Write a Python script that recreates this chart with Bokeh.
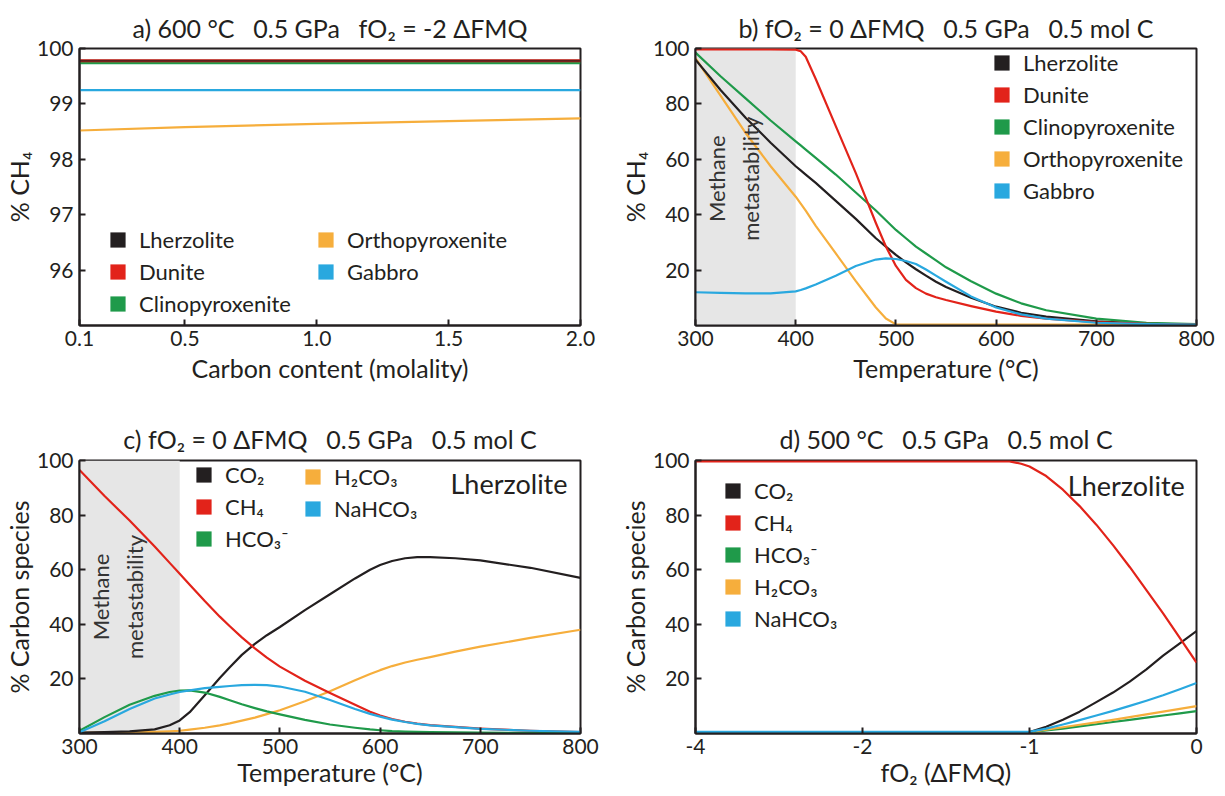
import numpy as np
from bokeh.plotting import figure
from bokeh.models import Range1d, FixedTicker, Legend, LegendItem, Label, BoxAnnotation
from bokeh.layouts import column, row
from bokeh.embed import file_html
from bokeh.resources import INLINE

FONT = "Lato"
INK = "#231f20"
C_BLACK = "#231f20"
C_RED = "#e2231a"
C_GREEN = "#1f9a4a"
C_ORANGE = "#f6ae3c"
C_BLUE = "#29a8df"
SHADE = "#e6e6e6"

# ---------------- Panel a data ----------------
a_carbon = [0.1, 0.5, 1.0, 1.5, 2.0]
a_lherzolite = [99.78, 99.78, 99.78, 99.78, 99.78]
a_dunite = [99.78, 99.78, 99.78, 99.78, 99.78]
a_clinopyroxenite = [99.74, 99.74, 99.74, 99.74, 99.74]
a_orthopyroxenite = [98.52, 98.58, 98.64, 98.69, 98.74]
a_gabbro = [99.25, 99.25, 99.25, 99.25, 99.25]
a_xticks = [0.1, 0.5, 1.0, 1.5, 2.0]
a_xtick_labels = ["0.1", "0.5", "1.0", "1.5", "2.0"]
a_yticks = [96, 97, 98, 99, 100]

# ---------------- Panel b data ----------------
b_temp = [300, 325, 350, 375, 400, 405, 410, 420, 440, 460, 480, 490, 500, 510,
          520, 530, 540, 550, 575, 600, 625, 650, 700, 750, 800]
b_lherzolite = [96, 85, 75, 66, 57.5, 56, 54.5, 51.5, 45, 38.5, 31.5, 28.5, 25.5, 22.8,
                20.3, 18, 15.8, 13.9, 10, 6.8, 4.6, 3.2, 1.5, 0.7, 0.3]
b_dunite = [99.7, 99.7, 99.7, 99.7, 99.6, 99.0, 97.0, 89, 72, 55, 37, 28.5, 21.5, 16.5,
            13.5, 11.5, 10.2, 9.2, 7, 5, 3.5, 2.5, 1.2, 0.6, 0.3]
b_clinopyroxenite = [98.5, 90, 82, 74, 66.5, 65, 63.5, 60.5, 54.5, 48, 41.5, 38, 34.5, 31.5,
                     28.5, 26, 23.5, 21, 16, 11.5, 8, 5.5, 2.5, 1.0, 0.5]
b_orthopyroxenite = [96.5, 83, 69.5, 57.5, 46.5, 44, 41.5, 36, 26, 16, 6.5, 2.5, 0.4, 0.3,
                     0.3, 0.3, 0.3, 0.3, 0.3, 0.3, 0.3, 0.3, 0.3, 0.3, 0.3]
b_gabbro = [12, 11.8, 11.6, 11.6, 12.3, 12.8, 13.4, 14.8, 18, 21.5, 23.8, 24.2, 24, 23.3,
            22.2, 20.2, 18, 15.8, 10.5, 6.5, 4, 2.5, 1.0, 0.5, 0.3]
temp_ticks = [300, 400, 500, 600, 700, 800]
pct_ticks = [20, 40, 60, 80, 100]
metastability_range = [300, 400]

# ---------------- Panel c data ----------------
c_temp = [300, 325, 350, 375, 390, 400, 410, 425, 440, 450, 462, 475, 487, 500, 525, 550,
          575, 590, 600, 612, 625, 637, 650, 675, 700, 750, 800]
c_co2 = [0.3, 0.5, 0.8, 1.5, 3, 4.8, 7.8, 14, 20.3, 24.3, 28.8, 32.8, 36, 39, 45.2, 51,
         56.8, 60, 61.7, 63.2, 64.2, 64.6, 64.6, 64.2, 63.4, 60.7, 57]
c_ch4 = [96.5, 87, 78, 68.5, 62.5, 58.5, 54.5, 48.5, 42.8, 39.3, 35.2, 31.2, 27.8, 24.5, 19.3, 14.8,
         10.5, 8, 6.6, 5.3, 4.3, 3.6, 3.1, 2.4, 1.8, 1.0, 0.5]
c_hco3 = [1, 6, 10.5, 13.8, 15.2, 15.7, 15.8, 15, 13.4, 12.2, 10.7, 9.3, 8.1, 7, 5, 3.3,
          2.1, 1.5, 1.2, 0.9, 0.7, 0.6, 0.5, 0.4, 0.3, 0.2, 0.2]
c_h2co3 = [0.2, 0.3, 0.4, 0.6, 0.8, 1, 1.4, 2.1, 3.0, 3.7, 4.7, 5.8, 7.1, 8.5, 11.8, 15.5,
           19.5, 21.8, 23.2, 24.7, 26, 27, 28, 30, 31.8, 35, 38]
c_nahco3 = [0.5, 4.5, 9, 12.8, 14.3, 15.2, 15.8, 16.6, 17.1, 17.4, 17.7, 17.8, 17.7, 17.2, 15.3, 12.3,
            9, 7.2, 6.2, 5.1, 4.2, 3.5, 3, 2.3, 1.7, 1.0, 0.6]

# ---------------- Panel d data ----------------
d_fo2 = [-4, -2, -1.12, -1.05, -1.0, -0.9, -0.8, -0.7, -0.6, -0.5, -0.4, -0.3, -0.2, -0.1, 0]
d_ch4 = [99.7, 99.7, 99.7, 98.8, 97.8, 94.3, 89.3, 83.3, 76.5, 69, 61, 52.5, 44, 35, 26]
d_co2 = [0.4, 0.4, 0.4, 0.4, 0.5, 2.5, 5, 8, 11.5, 15, 19, 23.5, 28.5, 33, 37.5]
d_hco3 = [0.4, 0.4, 0.4, 0.4, 0.4, 1.1, 1.8, 2.6, 3.4, 4.2, 5.0, 5.8, 6.6, 7.4, 8.2]
d_h2co3 = [0.4, 0.4, 0.4, 0.4, 0.5, 1.4, 2.3, 3.2, 4.1, 5.0, 6.0, 7.0, 8.0, 9.0, 10.0]
d_nahco3 = [0.6, 0.6, 0.6, 0.6, 0.6, 1.8, 3.3, 4.9, 6.6, 8.3, 10.1, 12.0, 14.0, 16.2, 18.5]
d_xticks = [-4, -2, -1, 0]
d_xtick_labels = ["-4", "-2", "-1", "0"]

rock_labels = ["Lherzolite", "Dunite", "Clinopyroxenite", "Orthopyroxenite", "Gabbro"]
rock_colors = [C_BLACK, C_RED, C_GREEN, C_ORANGE, C_BLUE]
species_labels = ["CO₂", "CH₄", "HCO₃⁻", "H₂CO₃", "NaHCO₃"]
species_colors = [C_BLACK, C_RED, C_GREEN, C_ORANGE, C_BLUE]


def make_fig(title, xr, yr, w, h, bl, br, bt, bb, title_standoff):
    p = figure(width=w, height=h, x_range=Range1d(*xr), y_range=Range1d(*yr),
               output_backend="svg", toolbar_location=None,
               min_border_left=bl, min_border_right=br, min_border_top=bt, min_border_bottom=bb)
    p.title.text = title
    p.title.align = "center"
    p.title.text_font = FONT
    p.title.text_font_size = "25px"
    p.title.text_font_style = "normal"
    p.title.text_color = INK
    p.title.standoff = title_standoff
    p.outline_line_color = INK
    p.outline_line_width = 2
    p.outline_line_alpha = 1
    p.xgrid.visible = False
    p.ygrid.visible = False
    p.background_fill_color = "white"
    p.border_fill_color = "white"
    for ax in (p.xaxis[0], p.yaxis[0]):
        ax.axis_line_color = INK
        ax.axis_line_width = 2
        ax.major_tick_in = 6
        ax.major_tick_out = 0
        ax.major_tick_line_width = 2
        ax.major_tick_line_color = INK
        ax.minor_tick_line_color = None
        ax.major_label_text_font = FONT
        ax.major_label_text_font_size = "21px"
        ax.major_label_text_color = INK
        ax.axis_label_text_font = FONT
        ax.axis_label_text_font_size = "25px"
        ax.axis_label_text_font_style = "normal"
        ax.axis_label_text_color = INK
    p.xaxis[0].major_label_standoff = 5
    p.xaxis[0].axis_label_standoff = 0
    p.yaxis[0].major_label_standoff = 6
    p.yaxis[0].axis_label_standoff = 0
    return p


def add_legend(p, labels, colors, loc):
    items = []
    for lab, col in zip(labels, colors):
        r = p.quad(left=np.array([np.nan]), right=np.array([np.nan]),
                   top=np.array([np.nan]), bottom=np.array([np.nan]),
                   fill_color=col, line_color=None)
        items.append(LegendItem(label=lab, renderers=[r]))
    leg = Legend(items=items, location=loc, padding=0, margin=0, spacing=5,
                 glyph_width=19, glyph_height=19, label_height=19, label_standoff=12,
                 label_text_font=FONT, label_text_font_size="22px", label_text_color=INK,
                 border_line_alpha=0, background_fill_alpha=0)
    p.add_layout(leg)


def add_shade(p):
    p.add_layout(BoxAnnotation(left=metastability_range[0], right=metastability_range[1],
                               fill_color=SHADE, fill_alpha=1, line_color=None, level="underlay"))


def add_meta_text(p, x, y):
    p.add_layout(Label(x=x, y=y, text="Methane\nmetastability", angle=np.pi / 2,
                       text_align="center", text_baseline="middle", text_font=FONT,
                       text_font_size="22px", text_color="#333333", text_line_height=1.25))


LW = 2.2
LJ = "round"

# ---------------- Panel a ----------------
pa = make_fig("a) 600 °C\u20030.5 GPa\u2003fO₂ = -2 ΔFMQ", (0.1, 2.0), (95, 100),
              612, 398, 78, 32, 48, 73, 11)
pa.line(a_carbon, a_clinopyroxenite, line_color=C_GREEN, line_width=2.5)
pa.line(a_carbon, a_dunite, line_color=C_RED, line_width=3)
pa.line(a_carbon, a_lherzolite, line_color=C_BLACK, line_width=2, line_alpha=0.7)
pa.line(a_carbon, a_gabbro, line_color=C_BLUE, line_width=LW)
pa.line(a_carbon, a_orthopyroxenite, line_color=C_ORANGE, line_width=LW)
pa.xaxis.ticker = FixedTicker(ticks=a_xticks)
pa.xaxis.major_label_overrides = dict(zip(a_xticks, a_xtick_labels))
pa.yaxis.ticker = FixedTicker(ticks=a_yticks)
pa.xaxis.axis_label = "Carbon content (molality)"
pa.yaxis.axis_label = "% CH₄"
pa.xaxis.axis_label_standoff = 4
add_legend(pa, rock_labels[:3], rock_colors[:3], (29, 8))
add_legend(pa, rock_labels[3:], rock_colors[3:], (237, 40))

# ---------------- Panel b ----------------
pb = make_fig("b) fO₂ = 0 ΔFMQ\u20030.5 GPa\u20030.5 mol C", (300, 800), (0, 100),
              612, 398, 83, 28, 48, 73, 11)
add_shade(pb)
add_meta_text(pb, 338, 53)
pb.line(b_temp, b_orthopyroxenite, line_color=C_ORANGE, line_width=LW, line_join=LJ)
pb.line(b_temp, b_lherzolite, line_color=C_BLACK, line_width=LW, line_join=LJ)
pb.line(b_temp, b_clinopyroxenite, line_color=C_GREEN, line_width=LW, line_join=LJ)
pb.line(b_temp, b_dunite, line_color=C_RED, line_width=LW, line_join=LJ)
pb.line(b_temp, b_gabbro, line_color=C_BLUE, line_width=LW, line_join=LJ)
pb.xaxis.ticker = FixedTicker(ticks=temp_ticks)
pb.yaxis.ticker = FixedTicker(ticks=pct_ticks)
pb.xaxis.axis_label = "Temperature (°C)"
pb.yaxis.axis_label = "% CH₄"
pb.xaxis.axis_label_standoff = 4
add_legend(pb, rock_labels, rock_colors, (297, 121))

# ---------------- Panel c ----------------
pc = make_fig("c) fO₂ = 0 ΔFMQ\u20030.5 GPa\u20030.5 mol C", (300, 800), (0, 100),
              612, 396, 78, 32, 62, 61, 14)
add_shade(pc)
add_meta_text(pc, 338, 50)
pc.line(c_temp, c_h2co3, line_color=C_ORANGE, line_width=LW, line_join=LJ)
pc.line(c_temp, c_co2, line_color=C_BLACK, line_width=LW, line_join=LJ)
pc.line(c_temp, c_ch4, line_color=C_RED, line_width=LW, line_join=LJ)
pc.line(c_temp, c_hco3, line_color=C_GREEN, line_width=LW, line_join=LJ)
pc.line(c_temp, c_nahco3, line_color=C_BLUE, line_width=LW, line_join=LJ)
pc.xaxis.ticker = FixedTicker(ticks=temp_ticks)
pc.yaxis.ticker = FixedTicker(ticks=pct_ticks)
pc.xaxis.axis_label = "Temperature (°C)"
pc.yaxis.axis_label = "% Carbon species"
pc.add_layout(Label(x=787, y=91.5, text="Lherzolite", text_align="right", text_baseline="middle",
                    text_font=FONT, text_font_size="27px", text_color=INK))
add_legend(pc, [species_labels[i] for i in (0, 1, 2)], [species_colors[i] for i in (0, 1, 2)], (115, 181))
add_legend(pc, [species_labels[i] for i in (3, 4)], [species_colors[i] for i in (3, 4)], (224, 211))

# ---------------- Panel d ----------------
d_tick_pos = list(range(len(d_xticks)))
d_pos = np.interp(d_fo2, d_xticks, d_tick_pos)
pd_ = make_fig("d) 500 °C\u20030.5 GPa\u20030.5 mol C", (0, 3), (0, 100),
               612, 396, 83, 28, 62, 61, 14)
pd_.line(d_pos, d_hco3, line_color=C_GREEN, line_width=LW, line_join=LJ)
pd_.line(d_pos, d_h2co3, line_color=C_ORANGE, line_width=LW, line_join=LJ)
pd_.line(d_pos, d_co2, line_color=C_BLACK, line_width=LW, line_join=LJ)
pd_.line(d_pos, d_nahco3, line_color=C_BLUE, line_width=LW, line_join=LJ)
pd_.line(d_pos, d_ch4, line_color=C_RED, line_width=LW, line_join=LJ)
pd_.xaxis.ticker = FixedTicker(ticks=d_tick_pos)
pd_.xaxis.major_label_overrides = dict(zip(d_tick_pos, d_xtick_labels))
pd_.yaxis.ticker = FixedTicker(ticks=pct_ticks)
pd_.xaxis.axis_label = "fO₂ (ΔFMQ)"
pd_.yaxis.axis_label = "% Carbon species"
pd_.add_layout(Label(x=2.93, y=91, text="Lherzolite", text_align="right", text_baseline="middle",
                     text_font=FONT, text_font_size="27px", text_color=INK))
add_legend(pd_, species_labels, species_colors, (28, 101))

layout = column(row(pa, pb), row(pc, pd_))
open("out.html", "w").write(file_html(layout, INLINE))
